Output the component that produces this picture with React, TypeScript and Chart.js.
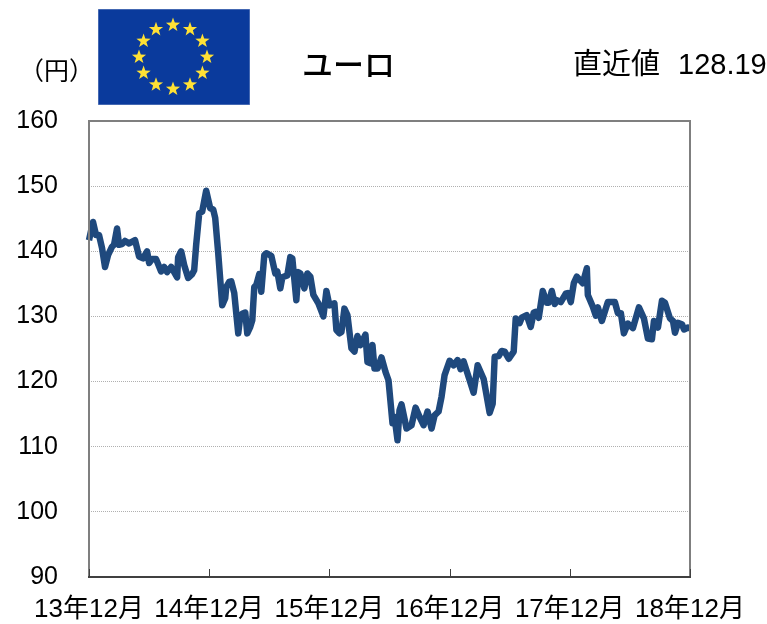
import React, { useEffect, useRef } from "react";
import { Chart, registerables } from "chart.js";

Chart.register(...registerables);

const tickLabels = ["13年12月", "14年12月", "15年12月", "16年12月", "17年12月", "18年12月"];

const months = [
  0, 0.4, 0.7, 1.0, 1.3, 1.6, 1.9, 2.3, 2.5, 2.8, 3.0, 3.3, 3.6, 4.0, 4.6, 5.0, 5.4, 5.8, 6.0, 6.3, 6.7,
  7.2, 7.5, 7.8, 8.2, 8.8, 8.9, 9.2, 9.5, 9.9, 10.3, 10.5, 10.7, 11.0, 11.3, 11.7, 12.1, 12.4, 12.6, 12.9,
  13.3, 13.6, 13.7, 14.0, 14.2, 14.5, 14.9, 15.1, 15.3, 15.6, 15.8, 16.1, 16.3, 16.5, 16.7, 17.0, 17.2,
  17.5, 17.7, 18.2, 18.6, 18.8, 19.1, 19.3, 19.8, 20.1, 20.3, 20.7, 20.9, 21.1, 21.5, 21.8, 22.1, 22.4,
  22.9, 23.4, 23.7, 24.0, 24.5, 24.7, 25.0, 25.2, 25.5, 25.8, 26.2, 26.5, 26.8, 27.1, 27.6, 27.8, 28.1,
  28.3, 28.5, 28.8, 29.2, 29.6, 29.9, 30.3, 30.5, 30.8, 31.0, 31.2, 31.7, 32.2, 32.6, 33.0, 33.4, 33.8,
  34.2, 34.5, 34.9, 35.2, 35.5, 36.0, 36.4, 36.8, 37.1, 37.4, 37.9, 38.4, 38.8, 39.4, 40.0, 40.3, 40.5,
  40.9, 41.2, 41.5, 41.9, 42.4, 42.6, 43.0, 43.2, 43.7, 44.1, 44.4, 44.6, 44.9, 45.3, 45.7, 45.9, 46.2,
  46.5, 46.7, 47.1, 47.6, 47.8, 48.1, 48.4, 48.7, 49.3, 49.7, 49.8, 50.3, 50.6, 50.8, 51.2, 51.8, 52.5,
  52.8, 53.1, 53.4, 53.8, 54.3, 54.9, 55.4, 55.8, 56.2, 56.4, 56.8, 57.2, 57.5, 58.0, 58.3, 58.5, 58.8,
  59.2, 59.4, 59.8, 60,
];

const euroYen = [
  141.7, 144.5, 142.5, 142.5, 140.5, 137.6, 139.4, 140.7, 141, 143.5, 141, 141.1, 141.6, 141.2, 141.7,
  139.2, 138.9, 140, 138.2, 138.8, 138.8, 136.9, 137.6, 136.8, 137.6, 136, 139.1, 140, 137.9, 135.9,
  136.5, 137.1, 141, 145.8, 146.1, 149.3, 146.6, 146.4, 145.1, 139.7, 131.7, 132.8, 134.5, 135.3, 135.4,
  133.6, 127.4, 130, 130.4, 130.6, 127.4, 128.4, 129.4, 134.5, 134.8, 136.5, 133.8, 139.4, 139.7, 139.3,
  136.6, 136.9, 134.3, 136, 136.3, 139.1, 138.9, 132.5, 136.8, 136.6, 134.3, 136.6, 136.1, 133.3, 132,
  130, 133.9, 131.7, 132, 127.9, 127.4, 127.6, 131.2, 130.2, 125.1, 124.6, 127, 125.6, 127.2, 123, 122.8,
  125.6, 122, 122, 123.7, 121.5, 120.2, 113.6, 114.6, 111, 115.6, 116.5, 112.8, 113.3, 116, 114.6, 113.3,
  115.4, 112.8, 114.8, 115.4, 117.7, 121, 123.2, 122.5, 123.3, 121.9, 123.1, 120.7, 118.3, 122.5, 120.4,
  115.2, 116.6, 123.8, 123.9, 124.7, 124.6, 123.5, 124.6, 129.7, 129, 129.8, 130.2, 128.4, 130.6, 130.7,
  129.8, 133.9, 132.1, 132.1, 133.9, 131.9, 132.5, 132.2, 133.5, 133.6, 132.2, 135.1, 136.1, 135.1, 137.4,
  133.3, 131.5, 130.1, 131.4, 129.3, 132.2, 132.2, 130.5, 130.5, 127.4, 128.9, 128.2, 131.4, 129.7, 126.6,
  126.5, 129.3, 128.3, 132.4, 132.1, 129.7, 129.3, 127.5, 129, 128.8, 128, 128.3, 128.19,
];

const SANS = '"Liberation Sans", "Noto Sans CJK JP", sans-serif';

const frame = {
  id: "frame",
  afterDraw(chart: any) {
    const { ctx, chartArea: a, scales } = chart;
    ctx.save();
    ctx.strokeStyle = "#7f7f7f";
    ctx.lineWidth = 2;
    ctx.beginPath();
    ctx.moveTo(a.left, a.bottom);
    ctx.lineTo(a.left, a.top);
    ctx.lineTo(a.right, a.top);
    ctx.lineTo(a.right, a.bottom);
    ctx.stroke();
    ctx.strokeStyle = "#404040";
    ctx.lineWidth = 2;
    ctx.beginPath();
    ctx.moveTo(a.left - 1, a.bottom);
    ctx.lineTo(a.right + 1, a.bottom);
    ctx.stroke();
    ctx.lineWidth = 1;
    scales.x.ticks.forEach((t: any) => {
      const x = Math.round(scales.x.getPixelForValue(t.value)) + 0.5;
      ctx.beginPath();
      ctx.moveTo(x, a.bottom);
      ctx.lineTo(x, a.bottom - 8);
      ctx.stroke();
    });
    ctx.restore();
  },
};

function star(cx: number, cy: number, r: number) {
  const pts: string[] = [];
  for (let i = 0; i < 10; i++) {
    const rad = i % 2 === 0 ? r : r * 0.4;
    const ang = -Math.PI / 2 + (i * Math.PI) / 5;
    pts.push(`${(cx + rad * Math.cos(ang)).toFixed(1)},${(cy + rad * Math.sin(ang)).toFixed(1)}`);
  }
  return pts.join(" ");
}

const starAngles = [0, 30, 60, 90, 120, 150, 180, 210, 240, 270, 300, 330];

const label = (left: number, top: number, size: number, text: string, extra: any = {}) => (
  <div
    style={{
      position: "absolute",
      left,
      top,
      fontSize: size,
      lineHeight: `${size}px`,
      fontFamily: SANS,
      color: "#000",
      whiteSpace: "pre",
      ...extra,
    }}
  >
    {text}
  </div>
);

export default function App() {
  const ref = useRef<HTMLCanvasElement>(null);
  useEffect(() => {
    const chart = new Chart(ref.current as HTMLCanvasElement, {
      type: "line",
      data: {
        datasets: [
          {
            data: months.map((m, i) => ({ x: m, y: euroYen[i] })),
            borderColor: "#1F497D",
            borderWidth: 6.5,
            borderJoinStyle: "round",
            borderCapStyle: "butt",
            pointRadius: 0,
            tension: 0,
            clip: false,
          },
        ],
      },
      options: {
        animation: false,
        responsive: false,
        layout: { padding: { left: 0, top: 121, right: 77, bottom: 0 } },
        plugins: { legend: { display: false }, tooltip: { enabled: false } },
        scales: {
          x: {
            type: "linear",
            min: 0,
            max: 60,
            afterFit: (s: any) => {
              s.height = 47;
            },
            afterBuildTicks: (s: any) => {
              s.ticks = tickLabels.map((_, i) => ({ value: i * 12 }));
            },
            grid: { display: false, drawTicks: false },
            border: { display: false },
            ticks: {
              autoSkip: false,
              maxRotation: 0,
              padding: 17,
              color: "#000",
              font: { family: SANS, size: 26 },
              callback: (v: any) => tickLabels[Math.round(Number(v) / 12)],
            },
          },
          y: {
            min: 90,
            max: 160,
            afterFit: (s: any) => {
              s.width = 89;
            },
            grid: {
              color: "#b0b0b0",
              lineWidth: 1,
              drawTicks: false,
            },
            border: { display: false, dash: [1, 1] },
            ticks: {
              stepSize: 10,
              padding: 31,
              color: "#000",
              font: { family: SANS, size: 25 },
            },
          },
        },
      },
      plugins: [frame],
    } as any);
    return () => chart.destroy();
  }, []);

  return (
    <div style={{ position: "fixed", left: 0, top: 0, width: 767, height: 624, background: "#fff", overflow: "hidden" }}>
      <canvas ref={ref} width={767} height={624} style={{ position: "absolute", left: 0, top: 0, display: "block" }} />
      <svg width={152} height={96} style={{ position: "absolute", left: 98, top: 9 }}>
        <rect x={0} y={0} width={152} height={96} fill="#0A3A9C" stroke="#7E96C8" strokeWidth={1} />
        {starAngles.map((a) => {
          const rad = (a * Math.PI) / 180;
          return (
            <polygon
              key={a}
              points={star(75 + 34 * Math.sin(rad), 48 - 32 * Math.cos(rad), 7.5)}
              fill="#FFE135"
            />
          );
        })}
      </svg>
      {label(19, 59, 25, "（円）")}
      {label(302, 47, 31, "ユーロ", { fontFamily: '"Noto Sans CJK JP"', fontWeight: 500 })}
      {label(573, 50, 29, "直近値")}
      {label(678, 50, 29, "128.19")}
    </div>
  );
}
